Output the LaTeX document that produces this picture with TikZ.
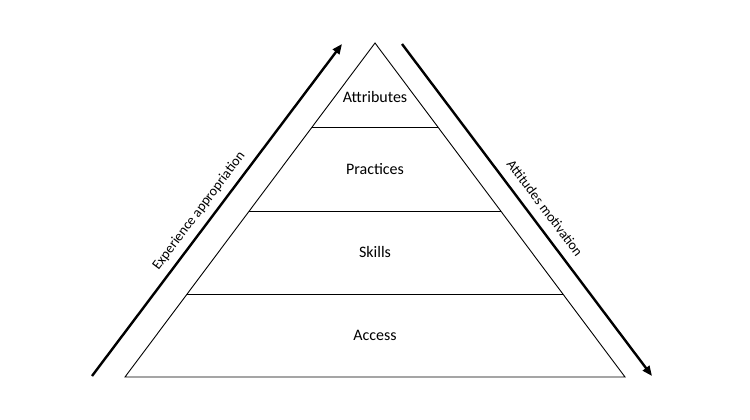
\documentclass[tikz,border=0pt]{standalone}
\usepackage{fontspec}
\setmainfont{Carlito}
\usetikzlibrary{arrows.meta,calc}
\begin{document}
\begin{tikzpicture}[x=1pt,y=-1pt,
	level/.style={font=\fontsize{16}{18}\selectfont},
	side/.style={line width=2.4pt,-{Triangle[length=10pt,width=8pt]}},
	sidelabel/.style={font=\fontsize{14}{16}\selectfont}]
	\useasboundingbox (0,0) rectangle (750,420);
	% pyramid
	\coordinate (apex) at (375,43);
	\coordinate (bl) at (125,377);
	\coordinate (br) at (625,377);
	\draw[line width=0.9pt] (apex) -- (bl) -- (br) -- cycle;
	\foreach \y/\nm in {127/a,211/b,294/c}{
		\coordinate (l\nm) at ($(apex)!{(\y-43)/334}!(bl)$);
		\coordinate (r\nm) at ($(apex)!{(\y-43)/334}!(br)$);
		\draw[line width=0.9pt] (l\nm) -- (r\nm);
	}
	\node[level] (attributes) at (375,97) {Attributes};
	\node[level] (practices) at (375,169) {Practices};
	\node[level] (skills) at (375,252) {Skills};
	\node[level] (access) at (375,335) {Access};
	% side arrows
	\coordinate (ls) at (92,376);
	\coordinate (le) at (342,44);
	\coordinate (rs) at (402,44);
	\coordinate (re) at (652,376);
	\draw[side] (ls) -- (le);
	\draw[side] (rs) -- (re);
	\node[sidelabel,rotate=53] (experience) at (199,211) {Experience appropriation};
	\node[sidelabel,rotate=-53] (attitudes) at (545,208) {Attitudes motivation};
\end{tikzpicture}
\end{document}
